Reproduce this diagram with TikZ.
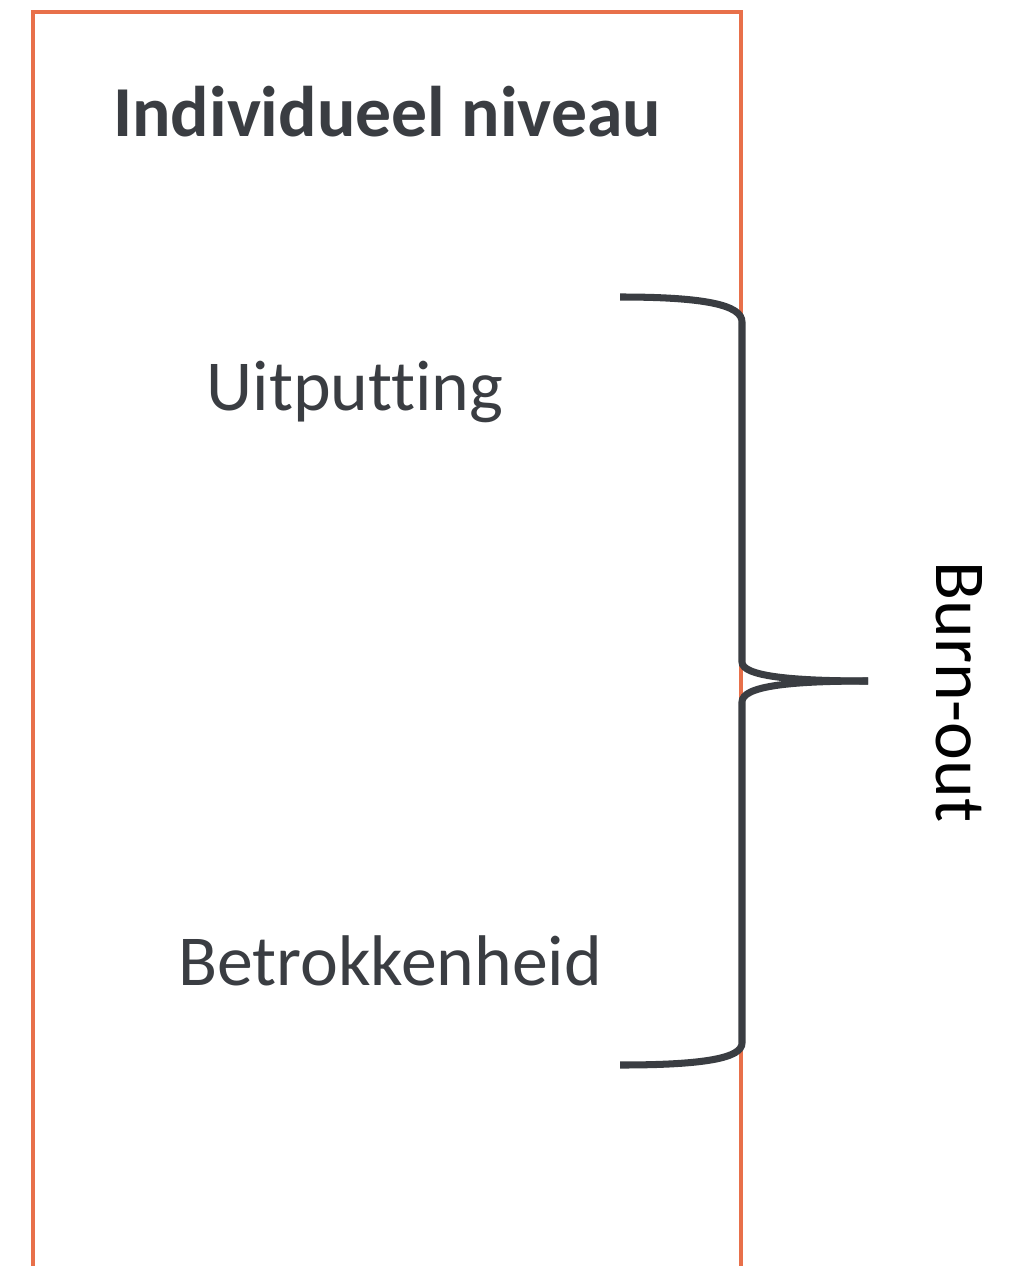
\documentclass[tikz,border=0pt]{standalone}
\usepackage{fontspec}
\setmainfont{Carlito}[Ligatures=NoCommon]
\usepackage{tikz}
\definecolor{frameorange}{HTML}{E8704A}
\definecolor{textgray}{HTML}{3A3D42}

\begin{document}
\begin{tikzpicture}[x=0.025cm,y=-0.025cm]
\tikzset{label/.style = {text=textgray,font=\fontsize{51}{58}\selectfont,inner sep=0pt,anchor=base}}
\tikzset{frame/.style = {draw=frameorange,line width=2.6pt}}
\tikzset{brace/.style = {draw=textgray,line width=5pt}}
\useasboundingbox (0,0) rectangle (1019,1266);
% frame
\draw[frame] (33,1270) -- (33,12) -- (741,12) -- (741,1270);
% labels
\node[label,font=\fontsize{51}{58}\selectfont\bfseries] (niveau) at (387,137) {Individueel niveau};
\node[label] (uit) at (355,410) {Uitputting};
\node[label] (betr) at (390,985) {Betrokkenheid};
\node[label,text=black,anchor=center,rotate=-90] (burn) at (959,692) {Burn-out};
% brace
\coordinate (top) at (620,297);
\coordinate (tip) at (868,681);
\coordinate (bot) at (620,1065);
\draw[brace] (top) .. controls (705,297) and (742,305) .. (742,322) -- (742,662)
  .. controls (742,676) and (790,681) .. (tip);
\draw[brace] (tip) .. controls (790,681) and (742,686) .. (742,702) -- (742,1043)
  .. controls (742,1058) and (705,1065) .. (bot);
\end{tikzpicture}
\end{document}
